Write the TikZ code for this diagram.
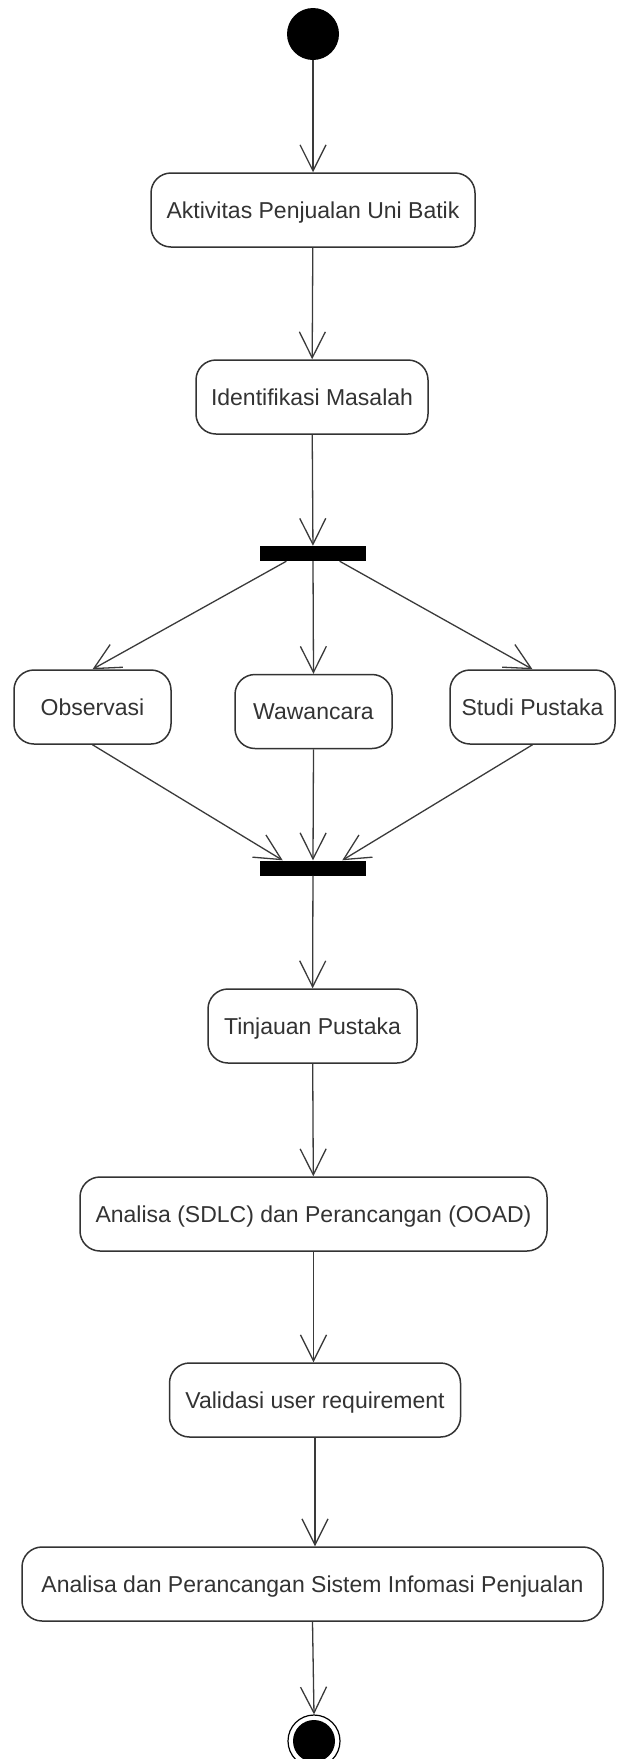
\documentclass[tikz,border=0pt]{standalone}
\usepackage{fontspec}
\setmainfont{Liberation Sans}
\usetikzlibrary{arrows.meta,calc}

\definecolor{ink}{HTML}{333333}
\definecolor{edge}{HTML}{3A3A3A}

\tikzset{
  activity/.style={draw=ink, line width=1.5pt, fill=white, rounded corners=20pt,
    minimum height=74pt, inner sep=0pt, text=ink,
    font=\fontsize{23}{27}\selectfont, text height=16.5pt, text depth=0pt},
  syncbar/.style={fill=black, draw=none, minimum width=106pt, minimum height=15pt, inner sep=0pt},
  startnode/.style={circle, fill=black, draw=none, minimum size=52pt, inner sep=0pt},
  flow/.style={draw=edge, line width=1.3pt,
    -{Straight Barb[length=26pt,width=26pt,line width=1.3pt]}},
}

\begin{document}
\begin{tikzpicture}[x=1pt,y=-1pt]
  \useasboundingbox (0,0) rectangle (616,1759);

  % initial and final states
  \node[startnode] (start) at (313,34) {};
  \node[circle, draw=black, line width=1.2pt, fill=white, minimum size=52pt, inner sep=0pt] (final) at (314,1741) {};
  \node[circle, fill=black, minimum size=42pt, inner sep=0pt] (finaldot) at (final) {};

  % activities
  \node[activity, minimum width=324pt] (aktivitas) at (313,210) {Aktivitas Penjualan Uni Batik};
  \node[activity, minimum width=232pt] (identifikasi) at (312,397) {Identifikasi Masalah};

  \node[syncbar] (fork) at (313,553.5) {};

  \node[activity, minimum width=157pt] (observasi) at (92.5,707) {Observasi};
  \node[activity, minimum width=157pt] (wawancara) at (313.5,711.5) {Wawancara};
  \node[activity, minimum width=165pt] (studi) at (532.5,707) {Studi Pustaka};

  \node[syncbar] (join) at (313,868) {};

  \node[activity, minimum width=209pt] (tinjauan) at (312.5,1026) {Tinjauan Pustaka};
  \node[activity, minimum width=467pt] (sdlc) at (313.5,1214) {Analisa (SDLC) dan Perancangan (OOAD)};
  \node[activity, minimum width=291pt] (validasi) at (315,1400) {Validasi user requirement};
  \node[activity, minimum width=581pt] (sistem) at (312.5,1584) {Analisa dan Perancangan Sistem Infomasi Penjualan};

  % control flow
  \draw[flow] (start) -- (aktivitas);
  \draw[flow] (aktivitas) -- (identifikasi);
  \draw[flow] (identifikasi) -- (fork);

  \draw[flow] ($(fork.south)!0.5!(fork.south west)$) -- (observasi.north);
  \draw[flow] (fork.south) -- (wawancara.north);
  \draw[flow] ($(fork.south)!0.5!(fork.south east)$) -- (studi.north);

  \draw[flow] (observasi.south) -- ($(join.north)!0.57!(join.north west)$);
  \draw[flow] (wawancara.south) -- (join.north);
  \draw[flow] (studi.south) -- ($(join.north)!0.55!(join.north east)$);

  \draw[flow] (join) -- (tinjauan);
  \draw[flow] (tinjauan) -- (sdlc);
  \draw[flow] (sdlc.south) -- (sdlc.south |- validasi.north);
  \draw[flow] (validasi.south) -- (validasi.south |- sistem.north);
  \draw[flow] (sistem.south) -- (final.north);
\end{tikzpicture}
\end{document}
